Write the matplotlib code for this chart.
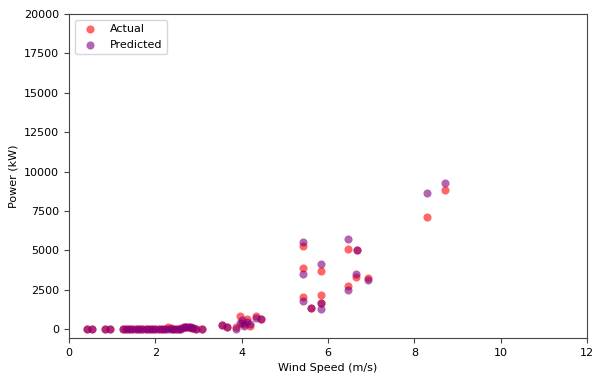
import matplotlib
matplotlib.use("Agg")
import matplotlib.pyplot as plt

wind_speed = [0.41, 0.53, 0.83, 0.95, 1.25, 1.32, 1.40, 1.47, 1.55, 1.62, 1.70, 1.78, 1.85,
              1.92, 2.00, 2.08, 2.15, 2.22, 2.30, 2.36, 2.42, 2.48, 2.55, 2.60, 2.66, 2.72,
              2.78, 2.83, 2.88, 2.95, 3.09, 3.55, 3.67, 3.88, 3.95, 4.00, 4.05, 4.13, 4.20,
              4.34, 4.45,
              5.43, 5.43, 5.43, 5.61, 5.84, 5.84, 5.84, 6.47, 6.47, 6.67, 6.65, 6.93,
              8.29, 8.71]
actual = [0, 0, 0, 0, 0, 0, 0, 0, 0, 0, 0, 0, 0,
          0, 0, 0, 0, 0, 100, 80, 0, 0, 0, 50, 120, 150,
          100, 60, 50, 0, 0, 250, 130, 120, 825, 400, 300, 630, 200,
          825, 630,
          5270, 3870, 2030, 1330, 3680, 2160, 1650, 5080, 2730, 5010, 3300, 3240,
          7110, 8820]
predicted = [0, 0, 0, 0, 0, 0, 0, 0, 0, 0, 0, 0, 0,
             0, 0, 0, 0, 0, 0, 0, 0, 0, 0, 0, 100, 120,
             150, 100, 50, 0, 0, 250, 130, 0, 400, 550, 200, 450, 300,
             700, 630,
             5520, 3490, 1780, 1330, 4120, 1270, 1650, 5710, 2470, 5010, 3490, 3110,
             8630, 9260]

fig = plt.figure(figsize=(5.95, 3.77), dpi=100)
ax = fig.add_axes([69/595, 1-338/377, 518/595, 324/377])
ax.scatter(wind_speed, actual, color="red", alpha=0.6, s=34, label="Actual", linewidths=0)
ax.scatter(wind_speed, predicted, color="purple", alpha=0.6, s=34, label="Predicted", linewidths=0)
ax.set_xlim(0, 12)
ax.set_ylim(-570, 20000)
ax.set_xlabel("Wind Speed (m/s)", fontsize=8)
ax.set_ylabel("Power (kW)", fontsize=8)
ax.tick_params(labelsize=8, color="#444444")
for sp in ax.spines.values():
    sp.set_color("#444444")
ax.legend(loc="upper left", fontsize=8)
fig.savefig("out.png", dpi=100)
